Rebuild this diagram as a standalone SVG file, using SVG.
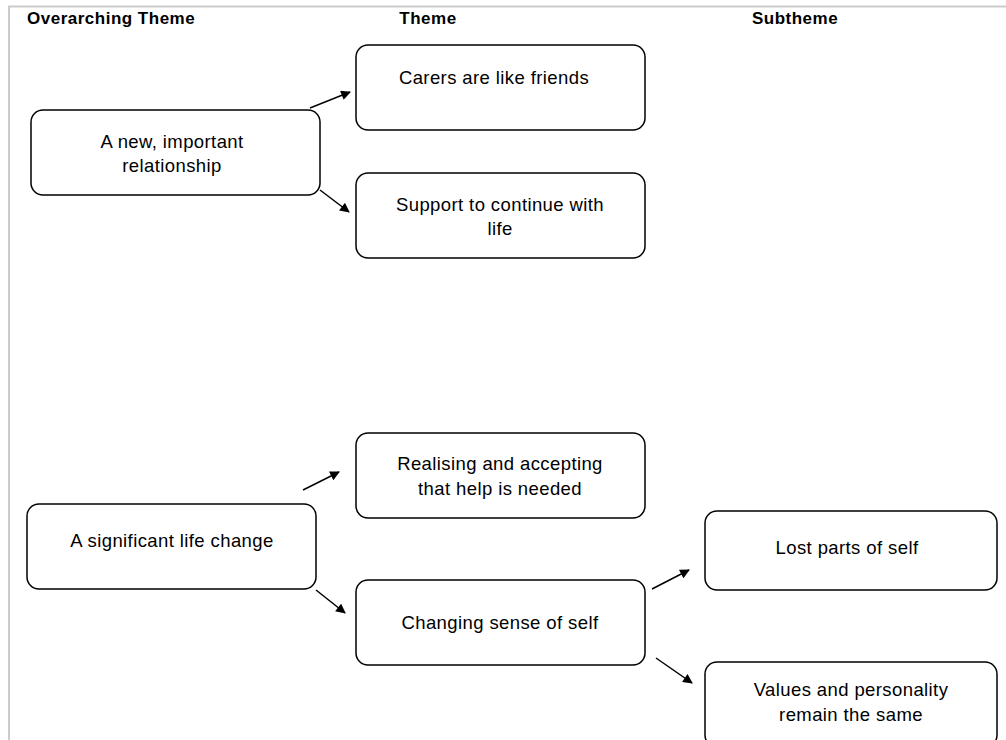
<svg xmlns="http://www.w3.org/2000/svg" width="1006" height="740" viewBox="0 0 1006 740">
<style>
.box{fill:#fff;stroke:#000;stroke-width:1.5}
.t{font-family:"Liberation Sans",Arial,sans-serif;font-size:18.5px;letter-spacing:0.4px;fill:#000;text-anchor:middle}
.h{font-family:"Liberation Sans",Arial,sans-serif;font-size:17px;letter-spacing:0.5px;font-weight:bold;fill:#000}
.c{stroke:#000;stroke-width:1.5;fill:none;marker-end:url(#ah)}
</style>
<defs>
<marker id="ah" viewBox="0 0 10 10" refX="9" refY="5" markerWidth="7" markerHeight="6.5" orient="auto" markerUnits="strokeWidth">
<path d="M0,0 L10,5 L0,10 z" fill="#000"/>
</marker>
</defs>
<rect width="1006" height="740" fill="#fff"/>
<path d="M9,740 V6.5 H1006" fill="none" stroke="#ccc" stroke-width="2"/>
<text class="h" x="27" y="24">Overarching Theme</text>
<text class="h" x="428" y="24" text-anchor="middle">Theme</text>
<text class="h" x="795" y="24" text-anchor="middle">Subtheme</text>
<g id="connectors">
<line class="c" x1="310" y1="108" x2="350" y2="92"/>
<line class="c" x1="320" y1="190" x2="349" y2="212"/>
<line class="c" x1="303" y1="490" x2="339" y2="472"/>
<line class="c" x1="316" y1="590" x2="345" y2="613"/>
<line class="c" x1="652" y1="589" x2="689" y2="570"/>
<line class="c" x1="656" y1="658" x2="692" y2="683"/>
</g>
<g id="n1"><rect class="box" x="31" y="110" width="289" height="85" rx="12"/><text class="t" x="172" y="148">A new, important</text><text class="t" x="172" y="172">relationship</text></g>
<g id="n2"><rect class="box" x="356" y="45" width="289" height="85" rx="12"/><text class="t" x="494" y="84">Carers are like friends</text></g>
<g id="n3"><rect class="box" x="356" y="173" width="289" height="85" rx="12"/><text class="t" x="500" y="211">Support to continue with</text><text class="t" x="500" y="235">life</text></g>
<g id="n4"><rect class="box" x="27" y="504" width="289" height="85" rx="12"/><text class="t" x="172" y="547">A significant life change</text></g>
<g id="n5"><rect class="box" x="356" y="433" width="289" height="85" rx="12"/><text class="t" x="500" y="470">Realising and accepting</text><text class="t" x="500" y="495">that help is needed</text></g>
<g id="n6"><rect class="box" x="356" y="580" width="289" height="85" rx="12"/><text class="t" x="500" y="629">Changing sense of self</text></g>
<g id="n7"><rect class="box" x="705" y="511" width="292" height="79" rx="12"/><text class="t" x="847" y="554">Lost parts of self</text></g>
<g id="n8"><rect class="box" x="705" y="662" width="292" height="85" rx="12"/><text class="t" x="851" y="696">Values and personality</text><text class="t" x="851" y="721">remain the same</text></g>
</svg>
